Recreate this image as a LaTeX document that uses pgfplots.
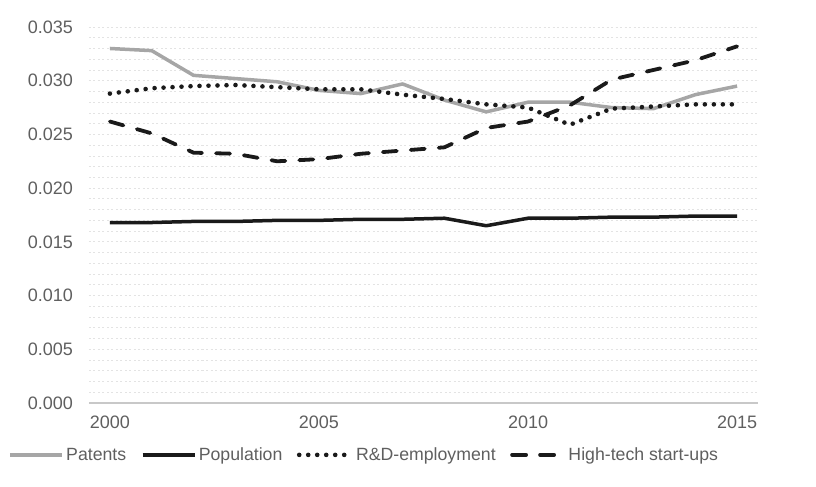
\documentclass[border=0pt]{standalone}
\usepackage{fontspec}
\setmainfont{Liberation Sans}
\usepackage{pgfplots}
\pgfplotsset{compat=1.18}
\definecolor{txtgray}{HTML}{5F5F5F}
\definecolor{patgray}{HTML}{A6A6A6}
\definecolor{gridgray}{HTML}{E3E3E3}
\definecolor{axgray}{HTML}{C8C8C8}
\definecolor{darkline}{HTML}{1A1A1A}
\begin{document}
\begin{tikzpicture}
\path[use as bounding box] (-89bp,-84bp) rectangle (727bp,403bp);
\begin{axis}[
  scale only axis,
  width=669bp, height=376bp,
  xmin=1999.5, xmax=2015.5,
  ymin=0, ymax=0.035,
  xtick={2000,2005,2010,2015},
  xticklabels={2000,2005,2010,2015},
  ytick={0,0.005,...,0.0351},
  minor ytick={0,0.001,...,0.0351},
  scaled y ticks=false,
  /pgf/number format/fixed,
  /pgf/number format/fixed zerofill,
  /pgf/number format/precision=3,
  /pgf/number format/assume math mode=true,
  major tick length=0pt, minor tick length=0pt,
  ymajorgrids, yminorgrids,
  major grid style={gridgray, line width=0.8bp, dash pattern=on 2bp off 2.5bp},
  minor grid style={gridgray, line width=0.8bp, dash pattern=on 2bp off 2.5bp},
  separate axis lines,
  axis x line*=bottom, axis y line*=left,
  x axis line style={axgray, line width=1.2bp, -},
  y axis line style={draw=none},
  tick label style={font=\fontsize{18bp}{22bp}\selectfont, text=txtgray, inner sep=0pt},
  yticklabel style={xshift=-16bp},
  xticklabel style={yshift=-13bp},
  legend columns=4,
  legend style={draw=none, fill=none, at={(axis description cs:-0.121,-0.138)}, anchor=west,
    font=\fontsize{17.7bp}{22bp}\selectfont, text=txtgray, inner sep=0pt,
    nodes={inner xsep=2.5bp, inner ysep=0pt},
    /tikz/every even column/.append style={column sep=12bp}},
  legend image code/.code={\draw[#1] (0bp,0bp) -- (52bp,0bp);},
  clip=false,
]
\addplot[patgray, line width=3.5bp, line join=round] coordinates {
(2000,0.0330)(2001,0.0328)(2002,0.0305)(2003,0.0302)(2004,0.0299)(2005,0.0291)(2006,0.0288)(2007,0.0297)
(2008,0.0282)(2009,0.0271)(2010,0.0280)(2011,0.0280)(2012,0.0275)(2013,0.0274)(2014,0.0287)(2015,0.0295)};
\addlegendentry{Patents}
\addplot[darkline, line width=3.5bp, line join=round] coordinates {
(2000,0.0168)(2001,0.0168)(2002,0.0169)(2003,0.0169)(2004,0.0170)(2005,0.0170)(2006,0.0171)(2007,0.0171)
(2008,0.0172)(2009,0.0165)(2010,0.0172)(2011,0.0172)(2012,0.0173)(2013,0.0173)(2014,0.0174)(2015,0.0174)};
\addlegendentry{Population}
\addplot[darkline, line width=4.6bp, line cap=round, dash pattern=on 0bp off 9bp] coordinates {
(2000,0.0288)(2001,0.0293)(2002,0.0295)(2003,0.0296)(2004,0.0294)(2005,0.0292)(2006,0.0292)(2007,0.0287)
(2008,0.0283)(2009,0.0278)(2010,0.0275)(2011,0.0259)(2012,0.0274)(2013,0.0276)(2014,0.0278)(2015,0.0278)};
\addlegendentry{R\&D-employment}
\addplot[darkline, line width=3.8bp, line cap=round, dash pattern=on 14bp off 14bp] coordinates {
(2000,0.0262)(2001,0.0251)(2002,0.0233)(2003,0.0232)(2004,0.0225)(2005,0.0227)(2006,0.0232)(2007,0.0235)
(2008,0.0238)(2009,0.0256)(2010,0.0262)(2011,0.0277)(2012,0.0301)(2013,0.0310)(2014,0.0319)(2015,0.0332)};
\addlegendentry{High-tech start-ups}
\end{axis}
\end{tikzpicture}
\end{document}
